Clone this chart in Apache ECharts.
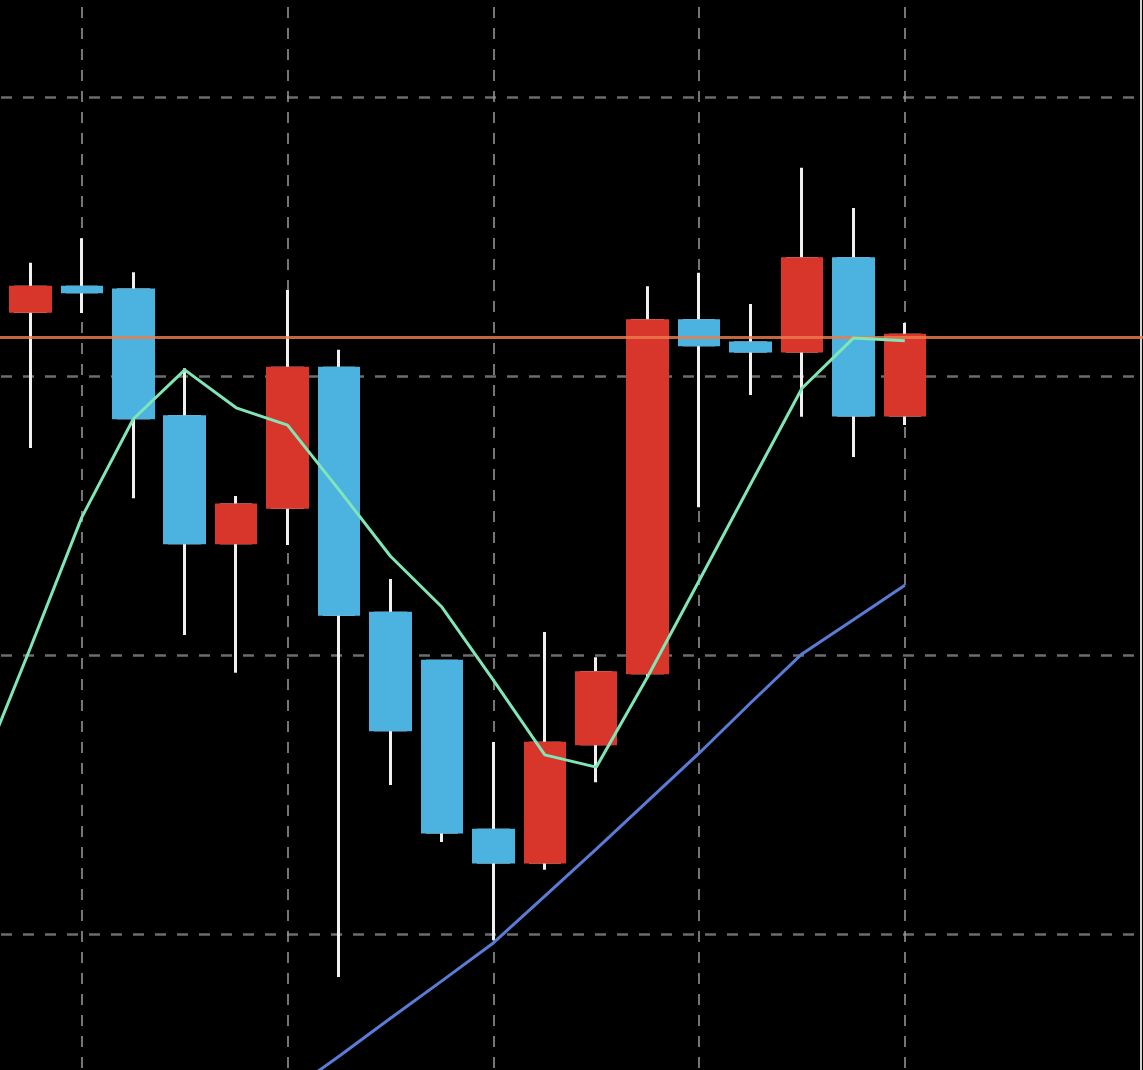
<!DOCTYPE html>
<html>
<head>
<meta charset="utf-8">
<title>candles</title>
<script src="https://cdn.jsdelivr.net/npm/echarts@6/dist/echarts.min.js"></script>
<style>
  html, body { margin: 0; padding: 0; background: #000; }
  #chart { width: 1143px; height: 1070px; }
</style>
</head>
<body>
<div id="chart"></div>
<script>
  // bars (19 with data, the rest is empty space on the right)
  var categories = ['1', '2', '3', '4', '5', '6', '7', '8', '9', '10', '11', '12',
    '13', '14', '15', '16', '17', '18', '19', '20', '21', '22', '23', '24'];

  var openPrices = [148.244, 149.116, 149.159, 149.154, 148.927, 148.701, 148.765, 149.014, 148.575, 148.489,
    148.186, 148.129, 148.341, 148.468, 149.099, 149.059, 149.045, 149.210, 148.930];
  var closePrices = [149.122, 149.159, 149.151, 148.925, 148.701, 148.769, 149.014, 148.573, 148.366, 148.183,
    148.129, 148.342, 148.468, 149.099, 149.056, 149.045, 149.210, 148.930, 149.073];
  var lowPrices = [148.231, 148.871, 149.113, 148.781, 148.536, 148.468, 148.697, 147.923, 148.267, 148.165,
    147.989, 148.115, 148.272, 148.459, 148.765, 148.966, 148.927, 148.855, 148.912];
  var highPrices = [149.136, 149.203, 149.247, 149.186, 149.014, 148.785, 149.154, 149.047, 148.636, 148.489,
    148.344, 148.541, 148.496, 149.161, 149.185, 149.129, 149.373, 149.301, 149.095];

  // moving averages
  var maFast = [148.285, 148.513, 148.747, 148.923, 149.011, 148.943, 148.912, 148.796, 148.677, 148.586,
    148.455, 148.321, 148.299, 148.461, 148.633, 148.806, 148.978, 149.068, 149.063];
  var maSlow = [null, null, null, null, null, null, 147.715, 147.781, 147.849, 147.916,
    147.984, 148.068, 148.152, 148.238, 148.324, 148.414, 148.502, 148.563, 148.625];

  // horizontal price level
  var levelPrice = 149.074;

  // y scale
  var yMin = 147.5;
  var yMax = 150;
  var yStep = 0.5;

  var upColor = '#d8362b';
  var downColor = '#4cb2df';

  // wick series: full OHLC, body left empty
  var wickData = openPrices.map(function (o, i) {
    return [o, closePrices[i], lowPrices[i], highPrices[i]];
  });
  // body series: no wick, only open/close
  var bodyData = openPrices.map(function (o, i) {
    var c = closePrices[i];
    return [o, c, Math.min(o, c), Math.max(o, c)];
  });

  var chart = echarts.init(document.getElementById('chart'));
  var option = {
    backgroundColor: '#000',
    animation: false,
    grid: {
      // plot area is larger than the page, only its middle is visible
      left: -21,
      top: -182,
      width: 1183,
      height: 1395,
      outerBoundsMode: 'none',
      containLabel: false
    },
    xAxis: {
      type: 'category',
      data: categories,
      boundaryGap: false,
      axisLine: { show: false },
      axisTick: { show: false },
      axisLabel: { show: false },
      splitLine: {
        show: true,
        interval: function (index) {
          return index % 4 === 2 && index <= 18;
        },
        lineStyle: { color: '#9c9c9c', width: 1.5, type: [11, 10] }
      }
    },
    yAxis: {
      type: 'value',
      position: 'right',
      offset: -21,
      min: yMin,
      max: yMax,
      interval: yStep,
      axisLine: { show: true, lineStyle: { color: '#d2d2d2', width: 2 } },
      axisTick: { show: false },
      axisLabel: { show: false },
      splitLine: {
        show: true,
        lineStyle: { color: '#6c6c6c', width: 2.5, type: [11, 11] }
      }
    },
    series: [
      {
        name: 'wick',
        type: 'candlestick',
        data: wickData,
        barWidth: 30,
        barMaxWidth: 60,
        itemStyle: {
          color: 'transparent',
          color0: 'transparent',
          borderColor: '#f0f0f0',
          borderColor0: '#f0f0f0',
          borderWidth: 3
        },
        z: 2
      },
      {
        name: 'body',
        type: 'candlestick',
        data: bodyData,
        barWidth: 40,
        barMaxWidth: 60,
        itemStyle: {
          color: upColor,
          color0: downColor,
          borderColor: upColor,
          borderColor0: downColor,
          borderWidth: 3
        },
        z: 3
      },
      {
        name: 'level',
        type: 'line',
        data: [],
        z: 4,
        markLine: {
          silent: true,
          symbol: 'none',
          label: { show: false },
          lineStyle: { color: 'rgba(236,124,76,0.82)', width: 3, type: 'solid' },
          data: [{ yAxis: levelPrice }]
        }
      },
      {
        name: 'maFast',
        type: 'line',
        data: maFast,
        showSymbol: false,
        smooth: false,
        lineStyle: { color: '#80e6b7', width: 3 },
        z: 5
      },
      {
        name: 'maSlow',
        type: 'line',
        data: maSlow,
        showSymbol: false,
        smooth: false,
        connectNulls: false,
        lineStyle: { color: '#5a7cd6', width: 3 },
        z: 5
      }
    ]
  };
  chart.setOption(option);
</script>
</body>
</html>
